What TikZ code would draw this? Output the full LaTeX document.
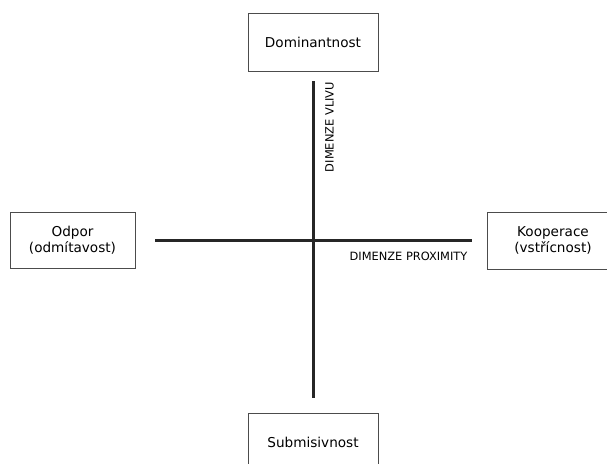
\documentclass[tikz,border=0pt]{standalone}
\usepackage{fontspec}
\setmainfont{DejaVu Sans}
\begin{document}
\begin{tikzpicture}[x=1pt,y=-1pt,
  pole/.style={draw=black!70, line width=1pt, fill=white, inner sep=0pt, align=center,
    font=\fontsize{13.6}{16.5}\selectfont},
  axis/.style={draw=black!85, line width=3pt},
  axlabel/.style={inner sep=0pt, font=\fontsize{11.4}{13}\selectfont}]
\useasboundingbox (0,0) rectangle (607,463);
\clip (0,0) rectangle (607,463);
% boxes
\node[pole, minimum width=130pt, minimum height=58pt] (dom) at (313,42) {Dominantnost};
\node[pole, minimum width=125pt, minimum height=56pt] (odp) at (72.5,240) {Odpor\\(odmítavost)};
\node[pole, minimum width=132pt, minimum height=57pt] (koo) at (553,240.5) {Kooperace\\(vstřícnost)};
\node[pole, minimum width=130pt, minimum height=62pt] (sub) at (313,444) {};
\node[inner sep=0pt, font=\fontsize{13.6}{16.5}\selectfont] (subt) at (313,442) {Submisivnost};
% axes
\coordinate (vt) at (313,81);
\coordinate (vb) at (313,398);
\coordinate (hl) at (155,240.5);
\coordinate (hr) at (472,240.5);
\draw[axis] (vt) -- (vb);
\draw[axis] (hl) -- (hr);
% labels
\node[axlabel, rotate=90] (lv) at (329.5,127) {DIMENZE VLIVU};
\node[axlabel] (lp) at (408.5,256) {DIMENZE PROXIMITY};
\end{tikzpicture}
\end{document}
